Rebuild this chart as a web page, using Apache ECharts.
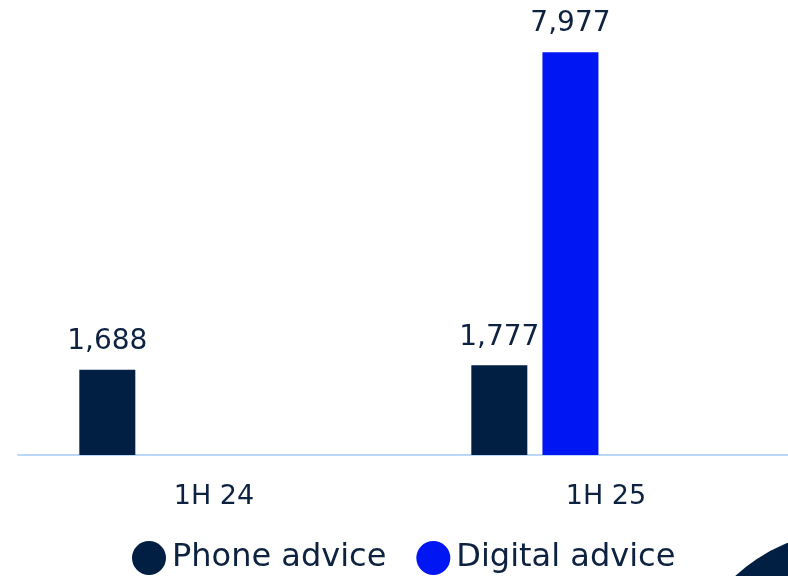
<!DOCTYPE html>
<html>
<head>
<meta charset="utf-8">
<script src="https://cdn.jsdelivr.net/npm/echarts@6/dist/echarts.min.js"></script>
<style>
  html, body { margin: 0; padding: 0; background: #ffffff; }
  #chart { width: 788px; height: 576px; }
</style>
</head>
<body>
<div id="chart"></div>
<script>
// Advice sessions by half-year
const categories = ['1H 24', '1H 25'];
const phoneAdvice = [1688, 1777];
const digitalAdvice = ['-', 7977];
const seriesNames = ['Phone advice', 'Digital advice'];

const TEXT = '#0d2240';
const FONT = 'DejaVu Sans';

const valueLabel = {
  show: true,
  position: 'top',
  distance: 14,
  color: TEXT,
  fontFamily: FONT,
  fontSize: 28,
  formatter: p => p.value.toLocaleString('en-US')
};

const chart = echarts.init(document.getElementById('chart'), null, { renderer: 'canvas' });

chart.setOption({
  backgroundColor: '#ffffff',
  animation: false,
  textStyle: { fontFamily: FONT, color: TEXT },
  grid: {
    left: 18, right: -14, top: 51, bottom: 121,
    outerBoundsMode: 'none'
  },
  legend: {
    data: seriesNames,
    left: 132,
    top: 541,
    padding: 0,
    icon: 'circle',
    itemWidth: 36,
    itemHeight: 34,
    itemGap: 30,
    textStyle: { color: TEXT, fontFamily: FONT, fontSize: 32, padding: [0, 0, 0, 0] }
  },
  xAxis: {
    type: 'category',
    data: categories,
    axisLine: { show: true, lineStyle: { color: '#bcd8f8', width: 2 } },
    axisTick: { show: false },
    axisLabel: { color: TEXT, fontFamily: FONT, fontSize: 27, margin: 28 }
  },
  yAxis: {
    type: 'value',
    min: 0,
    max: 8000,
    show: false,
    splitLine: { show: false }
  },
  series: [
    {
      name: seriesNames[0],
      type: 'bar',
      data: phoneAdvice,
      barWidth: 56,
      barGap: '27%',
      itemStyle: { color: '#001f42' },
      label: valueLabel
    },
    {
      name: seriesNames[1],
      type: 'bar',
      data: digitalAdvice,
      barWidth: 56,
      barGap: '27%',
      itemStyle: { color: '#0016f2' },
      label: valueLabel
    },
    // two unused slots keep the grouped layout of four bars per period
    { name: 'slot3', type: 'bar', data: ['-', '-'], barWidth: 56, barGap: '27%' },
    { name: 'slot4', type: 'bar', data: ['-', '-'], barWidth: 56, barGap: '27%' }
  ],
  graphic: [
    {
      type: 'circle',
      shape: { cx: 850, cy: 700, r: 169 },
      style: { fill: '#001f42' },
      silent: true,
      z: 0
    }
  ]
});
</script>
</body>
</html>
